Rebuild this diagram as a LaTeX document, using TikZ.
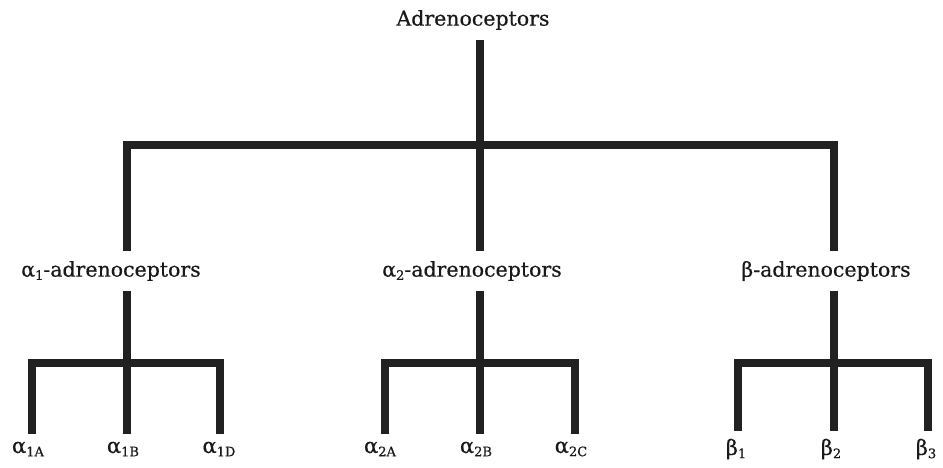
\documentclass[tikz,border=0pt]{standalone}
\usepackage{fontspec}
\setmainfont[FakeBold=0.5]{DejaVu Serif}
\newcommand{\lowsub}[1]{\raisebox{-0.3ex}{\fontsize{13}{13}\selectfont #1}}
\tikzset{
  lbl/.style={inner sep=0pt, outer sep=10pt, font=\fontsize{20.5}{20.5}\selectfont, text=black!90},
  leaf/.style={inner sep=0pt, outer sep=8pt, font=\fontsize{21}{21}\selectfont, text=black!90},
  conn/.style={line width=7.5pt, draw=black!87, line join=miter, line cap=butt},
}
\begin{document}
\begin{tikzpicture}[x=1pt,y=-1pt]
\useasboundingbox (0,0) rectangle (943,468);
% nodes
\node[lbl] (top) at (473,20) {Adrenoceptors};
\node[lbl] (a1) at (111,271) {α\lowsub{1}-adrenoceptors};
\node[lbl] (a2) at (472,271) {α\lowsub{2}-adrenoceptors};
\node[lbl] (b)  at (826,271) {β-adrenoceptors};
\node[leaf] (a1A) at (28,449) {α\lowsub{1A}};
\node[leaf] (a1B) at (123,449) {α\lowsub{1B}};
\node[leaf] (a1D) at (219,449) {α\lowsub{1D}};
\node[leaf] (a2A) at (380,449) {α\lowsub{2A}};
\node[leaf] (a2B) at (476,449) {α\lowsub{2B}};
\node[leaf] (a2C) at (571,449) {α\lowsub{2C}};
\node[leaf] (b1) at (736,449) {β\lowsub{1}};
\node[leaf] (b2) at (831,449) {β\lowsub{2}};
\node[leaf] (b3) at (926,449) {β\lowsub{3}};
% junctions
\coordinate (j0) at (480,145);
\coordinate (j0l) at (127,145);
\coordinate (j0r) at (834,145);
\coordinate (j1) at (127,363);
\coordinate (j1l) at (32,363);
\coordinate (j1r) at (220,363);
\coordinate (j2) at (480,363);
\coordinate (j2l) at (385,363);
\coordinate (j2r) at (575,363);
\coordinate (j3) at (834,363);
\coordinate (j3l) at (738,363);
\coordinate (j3r) at (928,363);
% top level
\draw[conn] (j0 |- top.south) -- (j0) -- (j0 |- a2.north);
\draw[conn] (j0l |- a1.north) -- (j0l) -- (j0r) -- (j0r |- b.north);
% alpha1
\draw[conn] (j1 |- a1.south) -- (j1) -- (j1 |- a1B.north);
\draw[conn] (j1l |- a1A.north) -- (j1l) -- (j1r) -- (j1r |- a1D.north);
% alpha2
\draw[conn] (j2 |- a2.south) -- (j2) -- (j2 |- a2B.north);
\draw[conn] (j2l |- a2A.north) -- (j2l) -- (j2r) -- (j2r |- a2C.north);
% beta
\draw[conn] (j3 |- b.south) -- (j3) -- (j3 |- b2.north);
\draw[conn] (j3l |- b1.north) -- (j3l) -- (j3r) -- (j3r |- b3.north);
\end{tikzpicture}
\end{document}
